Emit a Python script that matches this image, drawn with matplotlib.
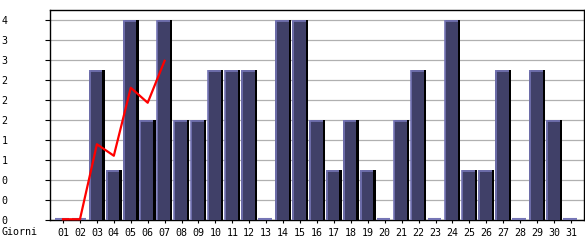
import matplotlib
matplotlib.use("Agg")
import matplotlib.pyplot as plt
import numpy as np

days = ["%02d" % d for d in range(1, 32)]
visits = [0, 0, 3, 1, 4, 2, 4, 2, 2, 3, 3, 3, 0, 4, 4, 2, 1, 2, 1, 0,
          2, 3, 0, 4, 1, 1, 3, 0, 3, 2, 0]
trend = [0, 0, 1.5, 1.27, 2.63, 2.33, 3.17]
yticks = [0, 0.4, 0.8, 1.2, 1.6, 2.0, 2.4, 2.8, 3.2, 3.6, 4.0]
ytick_labels = ["0", "0", "0", "1", "1", "2", "2", "2", "3", "3", "4"]

FILL = "#404068"
HIGH = "#7676b6"
SHADOW = "#000000"
FONT = "DejaVu Sans Mono"
FS = 7.2

fig = plt.figure(figsize=(5.85, 2.4), dpi=100)
ax = fig.add_axes([50 / 585, 20 / 240, 534 / 585, 210 / 240])

x = np.arange(len(days))
W = 0.925
SW = 0.135
vals = np.array(visits, dtype=float)
pos = vals > 0

ax.bar(x[pos], vals[pos], width=W, color=SHADOW, linewidth=0, zorder=2)
ax.bar(x[pos] - SW / 2, vals[pos], width=W - SW, color=FILL, linewidth=0, zorder=3)
left = x - W / 2
ax.vlines(left[pos] + 0.035, 0, vals[pos], color=HIGH, linewidth=1.2, zorder=4)
ax.hlines(vals[pos] - 0.012, left[pos], left[pos] + W - SW, color=HIGH, linewidth=1.2, zorder=4)
zero = ~pos
ax.hlines(vals[zero] + 0.015, left[zero], left[zero] + W - SW, color=HIGH,
          linewidth=1.5, zorder=4, clip_on=False)

ax.plot(x[:len(trend)], np.array(trend) + 0.015, color="#ff0000", linewidth=1.6,
        zorder=5, clip_on=False)

ax.set_xlim(-0.77, 30.77)
ax.set_ylim(0, 4.2)
ax.set_yticks(yticks)
ax.set_yticklabels(ytick_labels, fontfamily=FONT, fontsize=FS)
ax.set_xticks(x)
ax.set_xticklabels(days, fontfamily=FONT, fontsize=FS)
ax.tick_params(axis="y", length=3.6, width=0.8, pad=27, direction="out")
ax.tick_params(axis="x", length=2.4, width=0.8, pad=3, direction="out")
for lbl in ax.get_yticklabels():
    lbl.set_horizontalalignment("right")

ax.yaxis.grid(True, color="#b0b0b0", linewidth=0.9, zorder=0)
ax.set_axisbelow(True)
for s in ax.spines.values():
    s.set_color("black")
    s.set_linewidth(1.0)
    s.set_zorder(1)

fig.text(2 / 585, 1 - 232 / 240, "Giorni", fontfamily=FONT, fontsize=FS,
         ha="left", va="center")

fig.savefig("out.png", dpi=100)
